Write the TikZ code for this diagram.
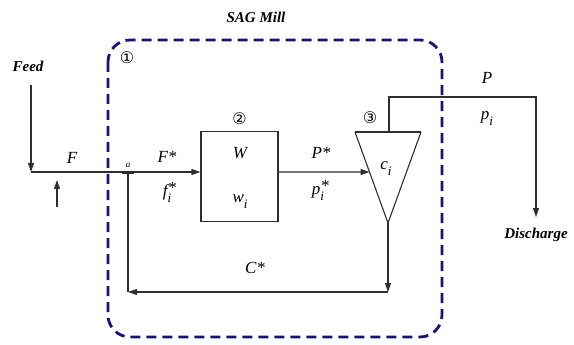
\documentclass[tikz,border=0pt]{standalone}
\usepackage{fontspec}
\setmainfont{Liberation Serif}
\newfontfamily\circfont{DejaVu Sans}
\usetikzlibrary{arrows.meta, positioning, calc}
\definecolor{millNavy}{HTML}{14147E}
\definecolor{lineGray}{HTML}{2E2E2E}
% variable with lowered index and raised star
\newcommand{\flowvar}[3]{#1\rlap{\raisebox{3pt}{#3}}\raisebox{-6pt}{\fontsize{13}{14}\selectfont #2}}
\tikzset{
  flow/.style={-{Triangle[length=9pt, width=6pt]}, line width=1.1pt, color=lineGray},
  pipe/.style={line width=1.1pt, color=lineGray},
  unitbox/.style={rectangle, draw=lineGray, line width=1.1pt,
                  minimum width=77pt, minimum height=90pt},
  millbound/.style={draw=millNavy, line width=2.8pt,
                    dash pattern=on 10pt off 6pt, rounded corners=22pt},
  lbl/.style={font=\fontsize{17}{19}\selectfont\itshape, inner sep=1pt},
  tag/.style={font=\fontsize{15}{17}\selectfont\bfseries\itshape, inner sep=1pt},
  unitno/.style={font=\fontsize{16}{18}\selectfont\circfont, inner sep=0pt},
}

\begin{document}
\begin{tikzpicture}[x=1pt, y=-1pt]
  \useasboundingbox (0,0) rectangle (574,345);
  % mill boundary
  \draw[millbound] (108,40) rectangle (442,337);
  \node[tag] (sag) at (256,17) {SAG Mill};
  \node[unitno] (n1) at (127,58) {①};

  % feed side
  \node[tag] (feed) at (28,66) {Feed};
  \coordinate (feedin) at (31,85);
  \coordinate (fd) at (31,172);
  \coordinate (a) at (128,172);
  \coordinate (ctl0) at (57,207);
  \coordinate (ctl1) at (57,180);
  \draw[flow] (feedin) -- (fd);
  \draw[flow] (ctl0) -- (ctl1);
  \node[lbl] (fF) at (72,158) {F};

  % mill unit
  \node[unitbox] (mill) at (239.5,176.5) {};
  \node[unitno, above=6pt of mill] (n2) {②};
  \node[lbl] (mW) at (240,153) {W};
  \node[lbl] (mw) at (240,202) {\flowvar{w}{i}{}};
  \draw[flow] (fd) -- (fd -| mill.west);
  \draw[line width=3pt, color=lineGray] ($(a)+(-6,1)$) -- ($(a)+(6,1)$);
  \node[font=\fontsize{9}{10}\selectfont\itshape, inner sep=0pt] (alab) at (128,165) {a};
  \node[lbl] (fFs) at (167,157) {F*};
  \node[lbl] (ffs) at (167,192) {\flowvar{f}{i}{*}};

  % cyclone
  \coordinate (cl) at (355,132);
  \coordinate (cr) at (421,132);
  \coordinate (ca) at (388,223);
  \coordinate (cin) at ($(cl)!0.44!(ca)$);
  \draw[pipe] (cl) -- (ca) -- (cr);
  \draw[pipe, line width=2.4pt] (cl) -- (cr);
  \node[unitno] (n3) at (370,118) {③};
  \node[lbl] (cc) at (386,168) {\flowvar{c}{i}{}};
  \draw[flow] (mill.east |- fd) -- (cin);
  \node[lbl] (pPs) at (321,153) {P*};
  \node[lbl] (pps) at (318,190) {\flowvar{p}{i}{*}};

  % overflow to discharge
  \coordinate (ov) at (389,132);
  \coordinate (dis) at (536,217);
  \draw[flow] (ov) -- ++(0,-35) -| (dis);
  \node[lbl] (oP) at (487,78) {P};
  \node[lbl] (op) at (487,118) {\flowvar{p}{i}{}};
  \node[tag, below=10pt of dis] (disl) {Discharge};

  % recycle
  \coordinate (rc) at (388,292);
  \draw[flow] (ca) -- (rc);
  \draw[flow] (rc) -- (a |- rc);
  \draw[pipe] (a |- rc) -- (a);
  \node[lbl] (rC) at (255,268) {C*};
\end{tikzpicture}
\end{document}
